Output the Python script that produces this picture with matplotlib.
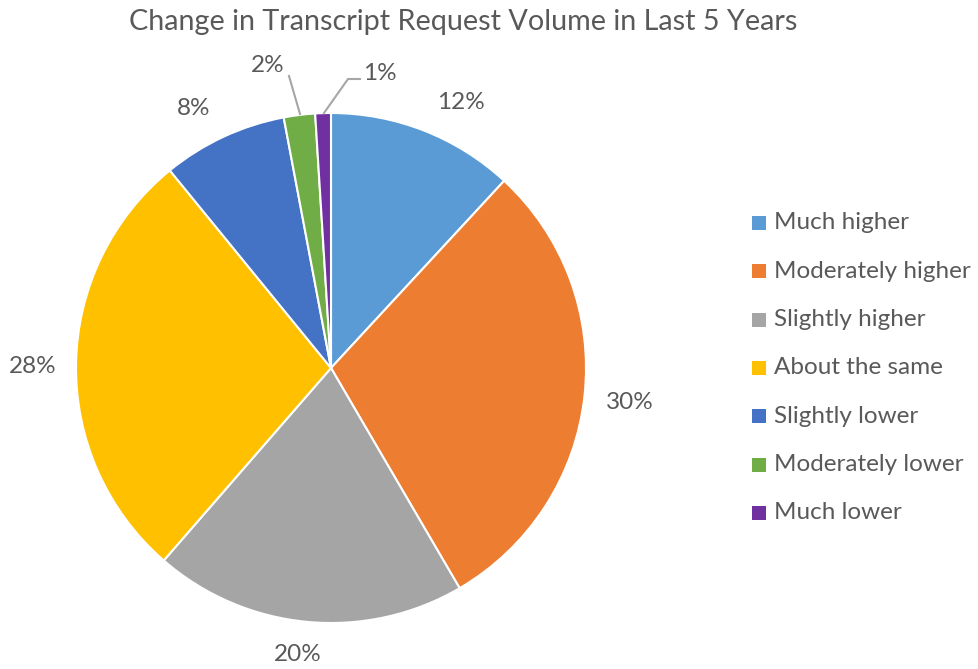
import matplotlib
matplotlib.use("Agg")
import matplotlib.pyplot as plt
from matplotlib.patches import Rectangle
import numpy as np

categories = ["Much higher", "Moderately higher", "Slightly higher", "About the same",
              "Slightly lower", "Moderately lower", "Much lower"]
values = [12, 30, 20, 28, 8, 2, 1]
labels = ["12%", "30%", "20%", "28%", "8%", "2%", "1%"]
colors = ["#5B9BD5", "#ED7D31", "#A5A5A5", "#FFC000", "#4472C4", "#70AD47", "#7030A0"]
title = "Change in Transcript Request Volume in Last 5 Years"

plt.rcParams['font.family'] = ['Lato', 'DejaVu Sans']
TXT = "#595959"

W, H = 979, 669
fig = plt.figure(figsize=(W / 100, H / 100), dpi=100)
cx, cy, r = 331, 368, 255
ax = fig.add_axes([(cx - r) / W, (H - cy - r) / H, 2 * r / W, 2 * r / H])
wedges, _ = ax.pie(values, colors=colors, startangle=90, counterclock=False, radius=1,
                   wedgeprops=dict(edgecolor="white", linewidth=1.5))
ax.set_xlim(-1, 1)
ax.set_ylim(-1, 1)
ax.set_aspect('equal')
ax.axis('off')

# label placement (angle in degrees, radial distance) - layout
label_pos = [(63.9, 1.16), (-6.5, 1.18), (-96.6, 1.13), (179.8, 1.17),
             (117.9, 1.15), (101.8, 1.21), (80.6, 1.17)]
for w, lab, (ang, dist) in zip(wedges, labels, label_pos):
    a = np.deg2rad(ang)
    ax.text(dist * np.cos(a), dist * np.sin(a), lab, ha='center', va='center',
            fontsize=17.5, color=TXT, clip_on=False)

# leader lines for small slices
def px(x, y):
    return ((x - cx) / r, (cy - y) / r)

for pts in [[(289, 76), (300, 114)], [(360, 79), (348, 79), (324, 113)]]:
    xs, ys = zip(*[px(*p) for p in pts])
    ax.plot(xs, ys, color="#A6A6A6", lw=1.5, clip_on=False)

fig.text(463 / W, 1 - 22 / H, title, ha='center', va='center', fontsize=20.7, color=TXT)

# legend drawn manually (layout in pixels)
row0, step, sq = 223, 48.33, 14
for i, (cat, col) in enumerate(zip(categories, colors)):
    yc = row0 + i * step
    fig.patches.append(Rectangle((752 / W, 1 - (yc + sq / 2) / H), sq / W, sq / H,
                                 transform=fig.transFigure, facecolor=col, edgecolor='none'))
    fig.text(774 / W, 1 - yc / H, cat, ha='left', va='center', fontsize=17.5, color=TXT)

fig.savefig("out.png", dpi=100)
